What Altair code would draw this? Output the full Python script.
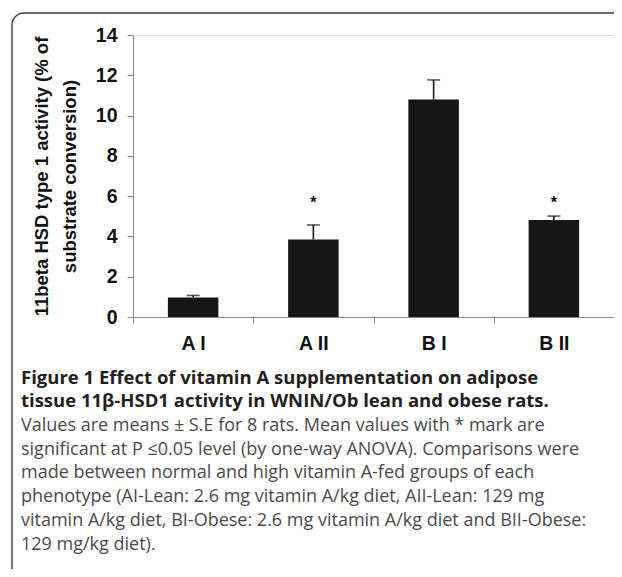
import altair as alt
import pandas as pd

# ---- data ----
groups = ["A I", "A II", "B I", "B II"]
means = [0.97, 3.85, 10.8, 4.82]
errors = [0.10, 0.72, 0.97, 0.19]
sig_marks = ["", "*", "", "*"]
y_ticks = [0, 2, 4, 6, 8, 10, 12, 14]

y_title = ["11beta HSD type 1 activity (% of", "substrate conversion)"]
caption_title = [
    "Figure 1 Effect of vitamin A supplementation on adipose",
    "tissue 11\u03b2-HSD1 activity in WNIN/Ob lean and obese rats.",
]
caption_body = [
    "Values are means \u00b1 S.E for 8 rats. Mean values with * mark are",
    "significant at P \u22640.05 level (by one-way ANOVA). Comparisons were",
    "made between normal and high vitamin A-fed groups of each",
    "phenotype (AI-Lean: 2.6 mg vitamin A/kg diet, AII-Lean: 129 mg",
    "vitamin A/kg diet, BI-Obese: 2.6 mg vitamin A/kg diet and BII-Obese:",
    "129 mg/kg diet).",
]

df = pd.DataFrame({
    "group": groups,
    "mean": means,
    "upper": [m + e for m, e in zip(means, errors)],
    "mark": sig_marks,
})

W, H = 481, 282
LEFT, TOP = 125, 27
TOTAL_W, TOTAL_H = 606, 561
ARIAL = "Liberation Sans, Arial, Helvetica, sans-serif"
BAR = "#161616"

x_enc = alt.X(
    "group:N", sort=groups,
    scale=alt.Scale(paddingInner=0, paddingOuter=0),
    axis=alt.Axis(
        title=None, labelAngle=0, labelFont=ARIAL, labelFontWeight="bold",
        labelFontSize=19.5, labelColor="#111", labelPadding=11,
        tickBand="extent", tickSize=6, tickColor="#888", domainColor="#888",
    ),
)
y_enc = alt.Y(
    "mean:Q",
    scale=alt.Scale(domain=[0, 14], nice=False),
    axis=alt.Axis(
        values=y_ticks, format="d", grid=False, labelFont=ARIAL,
        labelFontWeight="bold", labelFontSize=19.5, labelColor="#111",
        labelPadding=10, tickSize=6, tickColor="#888", domainColor="#888",
        title=y_title, titleFont=ARIAL, titleFontWeight="bold",
        titleFontSize=18.5, titleColor="#111", titleLineHeight=28,
        titleAngle=270, titleAlign="center", titleBaseline="middle",
        titleX=-92, titleY=H / 2,
    ),
)

base = alt.Chart(df)

bars = base.mark_bar(color=BAR, width=alt.RelativeBandSize(0.42)).encode(x=x_enc, y=y_enc)
err = base.mark_rule(color=BAR, strokeWidth=1.6).encode(x=x_enc, y="mean:Q", y2="upper:Q")
caps = base.mark_tick(color=BAR, thickness=1.6, size=13).encode(x=x_enc, y="upper:Q")
stars = base.mark_text(
    font=ARIAL, fontSize=16, fontWeight="bold", color="#111", baseline="middle"
).encode(x=x_enc, y=alt.datum(5.65), text="mark:N")

frame = alt.Chart(pd.DataFrame({"k": [0]})).mark_rect(
    fill="white", fillOpacity=0, stroke="#3a3a3a", strokeWidth=1.4, cornerRadius=12
).encode(
    x=alt.value(-121), y=alt.value(-22), x2=alt.value(560), y2=alt.value(600)
)

layers = [frame, bars, err, caps, stars]

CAP_X = -112
title_y = [343, 366]
body_y = [391, 415, 438, 462, 486, 510]
for line, yy in zip(caption_title, title_y):
    layers.append(
        alt.Chart(pd.DataFrame({"t": [line]})).mark_text(
            font="Open Sans", fontSize=18.5, fontWeight="bold", color="#231f20",
            align="left", baseline="middle",
        ).encode(text="t:N", x=alt.value(CAP_X), y=alt.value(yy))
    )
for line, yy in zip(caption_body, body_y):
    layers.append(
        alt.Chart(pd.DataFrame({"t": [line]})).mark_text(
            font="Open Sans", fontSize=18, color="#4a4a4a",
            align="left", baseline="middle",
        ).encode(text="t:N", x=alt.value(CAP_X), y=alt.value(yy))
    )

chart = alt.layer(*layers).properties(
    width=W, height=H,
    autosize=alt.AutoSizeParams(type="none"),
    padding={"left": LEFT, "top": TOP, "right": TOTAL_W - LEFT - W,
             "bottom": TOTAL_H - TOP - H},
).configure_view(stroke=None).configure(background="white")

chart.save("out.html", embed_options={"renderer": "svg", "actions": False})
